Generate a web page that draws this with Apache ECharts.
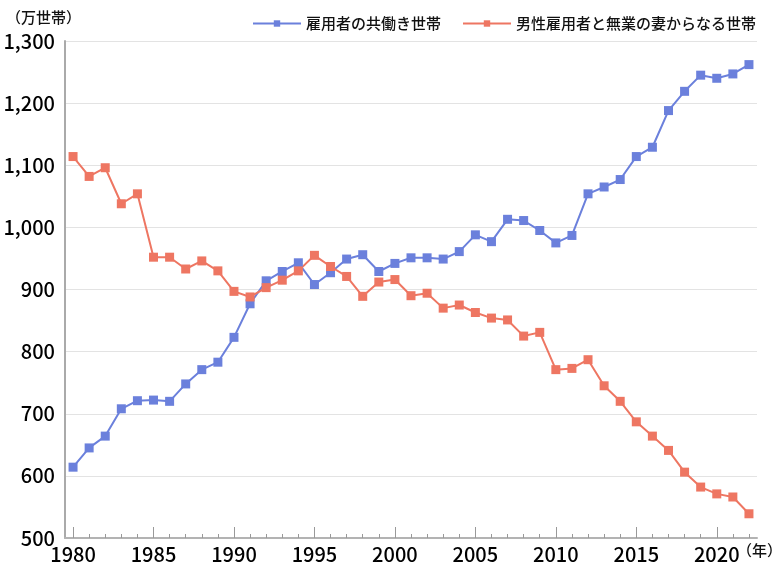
<!DOCTYPE html>
<html>
<head>
<meta charset="utf-8">
<script src="https://cdn.jsdelivr.net/npm/echarts@6/dist/echarts.min.js"></script>
<style>html,body{margin:0;padding:0;background:#fff}#c{width:783px;height:580px}</style>
</head>
<body>
<div id="c"></div>
<script>
const years = [];
for (let y = 1980; y <= 2022; y++) years.push(String(y));
const dualIncome = [614,645,664,708,721,722,720,748,771,783,823,877,914,929,943,908,927,949,956,929,942,951,951,949,961,988,977,1013,1011,995,975,987,1054,1065,1077,1114,1129,1188,1219,1245,1240,1247,1262];
const singleIncome = [1114,1082,1096,1038,1054,952,952,933,946,930,897,888,903,915,930,955,937,921,889,912,916,890,894,870,875,863,854,851,825,831,771,773,787,745,720,687,664,641,606,582,571,566,539];
const seriesNames = ['雇用者の共働き世帯','男性雇用者と無業の妻からなる世帯'];
const yTicks = {min:500, max:1300, interval:100};
const unitY = '（万世帯）';
const unitX = '（年）';

const font = '"Noto Sans CJK JP", "Noto Sans", sans-serif';
const chart = echarts.init(document.getElementById('c'));
chart.setOption({
  animation: false,
  textStyle: {fontFamily: font},
  grid: {left: 65, right: 26, top: 41, bottom: 42},
  legend: {
    left: 247, top: 11,
    itemWidth: 48, itemHeight: 8, itemGap: 21,
    textStyle: {fontSize: 15, color: '#111', fontWeight: 500, fontFamily: font},
    data: seriesNames
  },
  graphic: [
    {type: 'text', left: 6, top: 10, style: {text: unitY, fontSize: 15, fontWeight: 500, fill: '#111', fontFamily: font}},
    {type: 'text', left: 737, top: 543, style: {text: unitX, fontSize: 15, fontWeight: 500, fill: '#111', fontFamily: font}}
  ],
  xAxis: [
    {
      type: 'category', data: years, boundaryGap: true,
      axisLine: {lineStyle: {color: '#b3b3b3', width: 2}},
      axisTick: {show: true, inside: true, length: 4, interval: 0, alignWithLabel: true, lineStyle: {color: '#999', width: 1}},
      axisLabel: {interval: (i) => i % 5 === 0, fontSize: 20, fontWeight: 500, color: '#000', margin: 6, fontFamily: font}
    },
    {
      type: 'category', data: years, boundaryGap: true, position: 'bottom',
      axisLine: {show: false},
      axisTick: {show: true, inside: true, length: 11, interval: (i) => i % 5 === 0, alignWithLabel: true, lineStyle: {color: '#999', width: 1}},
      axisLabel: {show: false}
    }
  ],
  yAxis: {
    type: 'value', min: yTicks.min, max: yTicks.max, interval: yTicks.interval,
    axisLine: {show: true, lineStyle: {color: '#aaa', width: 2}},
    axisTick: {show: false},
    splitLine: {lineStyle: {color: '#e3e3e3', width: 1}},
    axisLabel: {fontSize: 20, fontWeight: 500, color: '#000', margin: 10, fontFamily: font,
      formatter: (v) => v.toLocaleString('en-US')}
  },
  series: [
    {
      name: seriesNames[0], type: 'line', data: dualIncome, xAxisIndex: 0,
      symbol: 'rect', symbolSize: 9,
      lineStyle: {color: '#6b80dc', width: 2},
      itemStyle: {color: '#6b80dc'}
    },
    {
      name: seriesNames[1], type: 'line', data: singleIncome, xAxisIndex: 0,
      symbol: 'rect', symbolSize: 9,
      lineStyle: {color: '#ee7662', width: 2},
      itemStyle: {color: '#ee7662'}
    }
  ]
});
</script>
</body>
</html>
